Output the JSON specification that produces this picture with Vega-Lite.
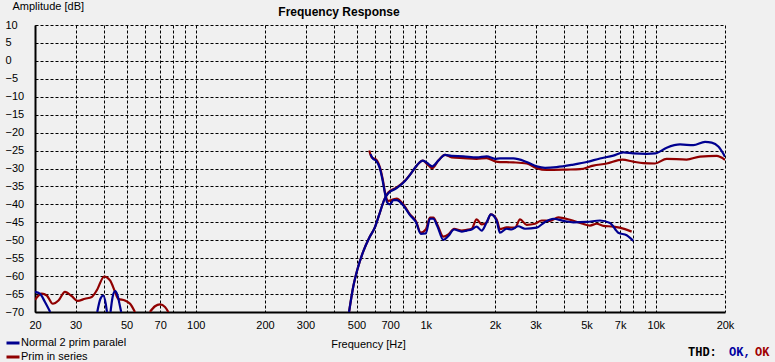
{
  "$schema": "https://vega.github.io/schema/vega-lite/v6.json",
  "width": 690,
  "height": 287,
  "autosize": {"type": "none"},
  "padding": {"left": 35, "top": 25, "right": 50, "bottom": 50},
  "background": "#f0f0f0",
  "title": {
    "text": "Frequency Response",
    "anchor": "middle",
    "frame": "group",
    "dx": -41,
    "dy": 27,
    "font": "Liberation Sans",
    "fontSize": 12,
    "fontWeight": "bold",
    "color": "#000000",
    "offset": 8
  },
  "datasets": {
    "curves": [
      {"s": "Prim in series", "g": "m", "f": 464, "db": -70},
      {"s": "Prim in series", "g": "m", "f": 484, "db": -62.9},
      {"s": "Prim in series", "g": "m", "f": 504, "db": -58.2},
      {"s": "Prim in series", "g": "m", "f": 535, "db": -53.1},
      {"s": "Prim in series", "g": "m", "f": 568, "db": -49.3},
      {"s": "Prim in series", "g": "m", "f": 600, "db": -46.5},
      {"s": "Prim in series", "g": "m", "f": 628, "db": -42.8},
      {"s": "Prim in series", "g": "m", "f": 661, "db": -38.6},
      {"s": "Prim in series", "g": "m", "f": 687, "db": -36.7},
      {"s": "Prim in series", "g": "m", "f": 747, "db": -35.3},
      {"s": "Prim in series", "g": "m", "f": 812, "db": -33.4},
      {"s": "Prim in series", "g": "m", "f": 869, "db": -31.1},
      {"s": "Prim in series", "g": "m", "f": 918, "db": -29.0},
      {"s": "Prim in series", "g": "m", "f": 970, "db": -27.8},
      {"s": "Prim in series", "g": "m", "f": 1030, "db": -29.2},
      {"s": "Prim in series", "g": "m", "f": 1068, "db": -29.9},
      {"s": "Prim in series", "g": "m", "f": 1134, "db": -27.8},
      {"s": "Prim in series", "g": "m", "f": 1213, "db": -26.2},
      {"s": "Prim in series", "g": "m", "f": 1296, "db": -26.9},
      {"s": "Prim in series", "g": "m", "f": 1456, "db": -27.1},
      {"s": "Prim in series", "g": "m", "f": 1664, "db": -27.3},
      {"s": "Prim in series", "g": "m", "f": 1840, "db": -27.1},
      {"s": "Prim in series", "g": "m", "f": 2000, "db": -28.0},
      {"s": "Prim in series", "g": "m", "f": 2101, "db": -28.2},
      {"s": "Prim in series", "g": "m", "f": 2403, "db": -28.3},
      {"s": "Prim in series", "g": "m", "f": 2747, "db": -28.6},
      {"s": "Prim in series", "g": "m", "f": 3036, "db": -29.9},
      {"s": "Prim in series", "g": "m", "f": 3355, "db": -30.4},
      {"s": "Prim in series", "g": "m", "f": 4098, "db": -30.3},
      {"s": "Prim in series", "g": "m", "f": 4684, "db": -30.2},
      {"s": "Prim in series", "g": "m", "f": 5353, "db": -29.2},
      {"s": "Prim in series", "g": "m", "f": 6118, "db": -28.6},
      {"s": "Prim in series", "g": "m", "f": 7156, "db": -27.5},
      {"s": "Prim in series", "g": "m", "f": 7987, "db": -28.1},
      {"s": "Prim in series", "g": "m", "f": 8828, "db": -28.5},
      {"s": "Prim in series", "g": "m", "f": 9925, "db": -28.6},
      {"s": "Prim in series", "g": "m", "f": 11153, "db": -27.3},
      {"s": "Prim in series", "g": "m", "f": 13615, "db": -27.5},
      {"s": "Prim in series", "g": "m", "f": 15563, "db": -26.7},
      {"s": "Prim in series", "g": "m", "f": 18403, "db": -26.5},
      {"s": "Prim in series", "g": "m", "f": 20000, "db": -27.6},
      {"s": "Prim in series", "g": "h", "f": 568, "db": -25.0},
      {"s": "Prim in series", "g": "h", "f": 582, "db": -26.9},
      {"s": "Prim in series", "g": "h", "f": 608, "db": -27.5},
      {"s": "Prim in series", "g": "h", "f": 632, "db": -29.7},
      {"s": "Prim in series", "g": "h", "f": 650, "db": -33.0},
      {"s": "Prim in series", "g": "h", "f": 665, "db": -36.7},
      {"s": "Prim in series", "g": "h", "f": 687, "db": -39.0},
      {"s": "Prim in series", "g": "h", "f": 723, "db": -38.6},
      {"s": "Prim in series", "g": "h", "f": 747, "db": -38.4},
      {"s": "Prim in series", "g": "h", "f": 799, "db": -40.0},
      {"s": "Prim in series", "g": "h", "f": 854, "db": -42.8},
      {"s": "Prim in series", "g": "h", "f": 907, "db": -44.7},
      {"s": "Prim in series", "g": "h", "f": 951, "db": -47.9},
      {"s": "Prim in series", "g": "h", "f": 1000, "db": -47.0},
      {"s": "Prim in series", "g": "h", "f": 1043, "db": -43.7},
      {"s": "Prim in series", "g": "h", "f": 1079, "db": -43.7},
      {"s": "Prim in series", "g": "h", "f": 1122, "db": -45.6},
      {"s": "Prim in series", "g": "h", "f": 1192, "db": -49.0},
      {"s": "Prim in series", "g": "h", "f": 1254, "db": -48.4},
      {"s": "Prim in series", "g": "h", "f": 1327, "db": -46.8},
      {"s": "Prim in series", "g": "h", "f": 1433, "db": -47.3},
      {"s": "Prim in series", "g": "h", "f": 1506, "db": -47.1},
      {"s": "Prim in series", "g": "h", "f": 1583, "db": -46.8},
      {"s": "Prim in series", "g": "h", "f": 1664, "db": -44.2},
      {"s": "Prim in series", "g": "h", "f": 1750, "db": -45.6},
      {"s": "Prim in series", "g": "h", "f": 1840, "db": -45.0},
      {"s": "Prim in series", "g": "h", "f": 1919, "db": -42.8},
      {"s": "Prim in series", "g": "h", "f": 2034, "db": -44.2},
      {"s": "Prim in series", "g": "h", "f": 2101, "db": -46.9},
      {"s": "Prim in series", "g": "h", "f": 2247, "db": -46.4},
      {"s": "Prim in series", "g": "h", "f": 2443, "db": -46.5},
      {"s": "Prim in series", "g": "h", "f": 2569, "db": -44.2},
      {"s": "Prim in series", "g": "h", "f": 2747, "db": -45.7},
      {"s": "Prim in series", "g": "h", "f": 2985, "db": -45.4},
      {"s": "Prim in series", "g": "h", "f": 3192, "db": -44.5},
      {"s": "Prim in series", "g": "h", "f": 3468, "db": -44.6},
      {"s": "Prim in series", "g": "h", "f": 3771, "db": -43.6},
      {"s": "Prim in series", "g": "h", "f": 4237, "db": -44.3},
      {"s": "Prim in series", "g": "h", "f": 4765, "db": -45.3},
      {"s": "Prim in series", "g": "h", "f": 5177, "db": -45.9},
      {"s": "Prim in series", "g": "h", "f": 5534, "db": -45.4},
      {"s": "Prim in series", "g": "h", "f": 5915, "db": -46.0},
      {"s": "Prim in series", "g": "h", "f": 6540, "db": -46.2},
      {"s": "Prim in series", "g": "h", "f": 7348, "db": -46.9},
      {"s": "Prim in series", "g": "h", "f": 7857, "db": -47.6},
      {"s": "Prim in series", "g": "l1", "f": 20, "db": -66.6},
      {"s": "Prim in series", "g": "l1", "f": 21.4, "db": -64.9},
      {"s": "Prim in series", "g": "l1", "f": 22.5, "db": -65.4},
      {"s": "Prim in series", "g": "l1", "f": 23.9, "db": -67.7},
      {"s": "Prim in series", "g": "l1", "f": 25.3, "db": -66.8},
      {"s": "Prim in series", "g": "l1", "f": 27.0, "db": -64.4},
      {"s": "Prim in series", "g": "l1", "f": 28.9, "db": -65.6},
      {"s": "Prim in series", "g": "l1", "f": 30.6, "db": -66.9},
      {"s": "Prim in series", "g": "l1", "f": 33.0, "db": -66.3},
      {"s": "Prim in series", "g": "l1", "f": 35.3, "db": -65.8},
      {"s": "Prim in series", "g": "l1", "f": 37.1, "db": -64.0},
      {"s": "Prim in series", "g": "l1", "f": 40.0, "db": -60.1},
      {"s": "Prim in series", "g": "l1", "f": 42.4, "db": -61.2},
      {"s": "Prim in series", "g": "l1", "f": 44.6, "db": -64.4},
      {"s": "Prim in series", "g": "l1", "f": 46.0, "db": -66.3},
      {"s": "Prim in series", "g": "l1", "f": 49.2, "db": -66.8},
      {"s": "Prim in series", "g": "l1", "f": 51.8, "db": -67.7},
      {"s": "Prim in series", "g": "l1", "f": 54.4, "db": -70},
      {"s": "Prim in series", "g": "l2", "f": 63.2, "db": -70},
      {"s": "Prim in series", "g": "l2", "f": 66.5, "db": -68.4},
      {"s": "Prim in series", "g": "l2", "f": 69.9, "db": -67.9},
      {"s": "Prim in series", "g": "l2", "f": 73.5, "db": -68.6},
      {"s": "Prim in series", "g": "l2", "f": 76.0, "db": -70},
      {"s": "Normal 2 prim paralel", "g": "m", "f": 464, "db": -70},
      {"s": "Normal 2 prim paralel", "g": "m", "f": 484, "db": -62.9},
      {"s": "Normal 2 prim paralel", "g": "m", "f": 504, "db": -58.2},
      {"s": "Normal 2 prim paralel", "g": "m", "f": 535, "db": -53.1},
      {"s": "Normal 2 prim paralel", "g": "m", "f": 568, "db": -49.3},
      {"s": "Normal 2 prim paralel", "g": "m", "f": 600, "db": -46.5},
      {"s": "Normal 2 prim paralel", "g": "m", "f": 628, "db": -42.8},
      {"s": "Normal 2 prim paralel", "g": "m", "f": 661, "db": -38.6},
      {"s": "Normal 2 prim paralel", "g": "m", "f": 687, "db": -36.9},
      {"s": "Normal 2 prim paralel", "g": "m", "f": 747, "db": -35.5},
      {"s": "Normal 2 prim paralel", "g": "m", "f": 812, "db": -33.5},
      {"s": "Normal 2 prim paralel", "g": "m", "f": 869, "db": -31.1},
      {"s": "Normal 2 prim paralel", "g": "m", "f": 918, "db": -29.0},
      {"s": "Normal 2 prim paralel", "g": "m", "f": 970, "db": -27.8},
      {"s": "Normal 2 prim paralel", "g": "m", "f": 1030, "db": -28.8},
      {"s": "Normal 2 prim paralel", "g": "m", "f": 1068, "db": -29.4},
      {"s": "Normal 2 prim paralel", "g": "m", "f": 1134, "db": -27.8},
      {"s": "Normal 2 prim paralel", "g": "m", "f": 1213, "db": -26.2},
      {"s": "Normal 2 prim paralel", "g": "m", "f": 1296, "db": -26.5},
      {"s": "Normal 2 prim paralel", "g": "m", "f": 1456, "db": -26.6},
      {"s": "Normal 2 prim paralel", "g": "m", "f": 1664, "db": -26.9},
      {"s": "Normal 2 prim paralel", "g": "m", "f": 1840, "db": -26.6},
      {"s": "Normal 2 prim paralel", "g": "m", "f": 2000, "db": -27.3},
      {"s": "Normal 2 prim paralel", "g": "m", "f": 2101, "db": -27.2},
      {"s": "Normal 2 prim paralel", "g": "m", "f": 2403, "db": -27.2},
      {"s": "Normal 2 prim paralel", "g": "m", "f": 2747, "db": -28.2},
      {"s": "Normal 2 prim paralel", "g": "m", "f": 3036, "db": -29.4},
      {"s": "Normal 2 prim paralel", "g": "m", "f": 3300, "db": -29.8},
      {"s": "Normal 2 prim paralel", "g": "m", "f": 3709, "db": -29.6},
      {"s": "Normal 2 prim paralel", "g": "m", "f": 4382, "db": -28.9},
      {"s": "Normal 2 prim paralel", "g": "m", "f": 5008, "db": -28.2},
      {"s": "Normal 2 prim paralel", "g": "m", "f": 5722, "db": -27.2},
      {"s": "Normal 2 prim paralel", "g": "m", "f": 6540, "db": -26.4},
      {"s": "Normal 2 prim paralel", "g": "m", "f": 7228, "db": -25.5},
      {"s": "Normal 2 prim paralel", "g": "m", "f": 7987, "db": -25.8},
      {"s": "Normal 2 prim paralel", "g": "m", "f": 9128, "db": -25.9},
      {"s": "Normal 2 prim paralel", "g": "m", "f": 9925, "db": -25.8},
      {"s": "Normal 2 prim paralel", "g": "m", "f": 11153, "db": -24.2},
      {"s": "Normal 2 prim paralel", "g": "m", "f": 12747, "db": -23.3},
      {"s": "Normal 2 prim paralel", "g": "m", "f": 14565, "db": -23.5},
      {"s": "Normal 2 prim paralel", "g": "m", "f": 16374, "db": -22.6},
      {"s": "Normal 2 prim paralel", "g": "m", "f": 17503, "db": -22.8},
      {"s": "Normal 2 prim paralel", "g": "m", "f": 18713, "db": -23.9},
      {"s": "Normal 2 prim paralel", "g": "m", "f": 20000, "db": -26.7},
      {"s": "Normal 2 prim paralel", "g": "h", "f": 575, "db": -26.0},
      {"s": "Normal 2 prim paralel", "g": "h", "f": 590, "db": -27.3},
      {"s": "Normal 2 prim paralel", "g": "h", "f": 608, "db": -27.8},
      {"s": "Normal 2 prim paralel", "g": "h", "f": 632, "db": -30.0},
      {"s": "Normal 2 prim paralel", "g": "h", "f": 650, "db": -33.5},
      {"s": "Normal 2 prim paralel", "g": "h", "f": 665, "db": -37.0},
      {"s": "Normal 2 prim paralel", "g": "h", "f": 680, "db": -39.5},
      {"s": "Normal 2 prim paralel", "g": "h", "f": 700, "db": -40.0},
      {"s": "Normal 2 prim paralel", "g": "h", "f": 723, "db": -38.8},
      {"s": "Normal 2 prim paralel", "g": "h", "f": 747, "db": -38.8},
      {"s": "Normal 2 prim paralel", "g": "h", "f": 799, "db": -40.3},
      {"s": "Normal 2 prim paralel", "g": "h", "f": 854, "db": -43.0},
      {"s": "Normal 2 prim paralel", "g": "h", "f": 907, "db": -45.0},
      {"s": "Normal 2 prim paralel", "g": "h", "f": 951, "db": -48.2},
      {"s": "Normal 2 prim paralel", "g": "h", "f": 1000, "db": -48.1},
      {"s": "Normal 2 prim paralel", "g": "h", "f": 1043, "db": -44.0},
      {"s": "Normal 2 prim paralel", "g": "h", "f": 1079, "db": -44.0},
      {"s": "Normal 2 prim paralel", "g": "h", "f": 1122, "db": -46.0},
      {"s": "Normal 2 prim paralel", "g": "h", "f": 1192, "db": -49.9},
      {"s": "Normal 2 prim paralel", "g": "h", "f": 1254, "db": -48.8},
      {"s": "Normal 2 prim paralel", "g": "h", "f": 1327, "db": -47.0},
      {"s": "Normal 2 prim paralel", "g": "h", "f": 1433, "db": -47.6},
      {"s": "Normal 2 prim paralel", "g": "h", "f": 1506, "db": -47.3},
      {"s": "Normal 2 prim paralel", "g": "h", "f": 1583, "db": -47.0},
      {"s": "Normal 2 prim paralel", "g": "h", "f": 1664, "db": -46.2},
      {"s": "Normal 2 prim paralel", "g": "h", "f": 1750, "db": -47.3},
      {"s": "Normal 2 prim paralel", "g": "h", "f": 1840, "db": -45.0},
      {"s": "Normal 2 prim paralel", "g": "h", "f": 1919, "db": -42.8},
      {"s": "Normal 2 prim paralel", "g": "h", "f": 2034, "db": -44.6},
      {"s": "Normal 2 prim paralel", "g": "h", "f": 2101, "db": -47.9},
      {"s": "Normal 2 prim paralel", "g": "h", "f": 2247, "db": -46.8},
      {"s": "Normal 2 prim paralel", "g": "h", "f": 2363, "db": -47.0},
      {"s": "Normal 2 prim paralel", "g": "h", "f": 2524, "db": -46.1},
      {"s": "Normal 2 prim paralel", "g": "h", "f": 2700, "db": -46.8},
      {"s": "Normal 2 prim paralel", "g": "h", "f": 3036, "db": -46.5},
      {"s": "Normal 2 prim paralel", "g": "h", "f": 3300, "db": -44.9},
      {"s": "Normal 2 prim paralel", "g": "h", "f": 3585, "db": -44.0},
      {"s": "Normal 2 prim paralel", "g": "h", "f": 3962, "db": -44.6},
      {"s": "Normal 2 prim paralel", "g": "h", "f": 4382, "db": -45.0},
      {"s": "Normal 2 prim paralel", "g": "h", "f": 5008, "db": -44.9},
      {"s": "Normal 2 prim paralel", "g": "h", "f": 5722, "db": -44.5},
      {"s": "Normal 2 prim paralel", "g": "h", "f": 6325, "db": -45.2},
      {"s": "Normal 2 prim paralel", "g": "h", "f": 6873, "db": -47.9},
      {"s": "Normal 2 prim paralel", "g": "h", "f": 7474, "db": -48.6},
      {"s": "Normal 2 prim paralel", "g": "h", "f": 7987, "db": -50.2},
      {"s": "Normal 2 prim paralel", "g": "l1", "f": 20, "db": -64.4},
      {"s": "Normal 2 prim paralel", "g": "l1", "f": 21, "db": -64.9},
      {"s": "Normal 2 prim paralel", "g": "l1", "f": 22.1, "db": -67.2},
      {"s": "Normal 2 prim paralel", "g": "l1", "f": 23.3, "db": -70},
      {"s": "Normal 2 prim paralel", "g": "l2", "f": 37.3, "db": -70},
      {"s": "Normal 2 prim paralel", "g": "l2", "f": 38.5, "db": -66.3},
      {"s": "Normal 2 prim paralel", "g": "l2", "f": 39.6, "db": -65.4},
      {"s": "Normal 2 prim paralel", "g": "l2", "f": 40.6, "db": -67.7},
      {"s": "Normal 2 prim paralel", "g": "l2", "f": 41.1, "db": -70},
      {"s": "Normal 2 prim paralel", "g": "l3", "f": 42.6, "db": -70},
      {"s": "Normal 2 prim paralel", "g": "l3", "f": 43.5, "db": -65.8},
      {"s": "Normal 2 prim paralel", "g": "l3", "f": 44.6, "db": -64.2},
      {"s": "Normal 2 prim paralel", "g": "l3", "f": 45.7, "db": -65.4},
      {"s": "Normal 2 prim paralel", "g": "l3", "f": 46.9, "db": -68.6},
      {"s": "Normal 2 prim paralel", "g": "l3", "f": 47.4, "db": -70}
    ],
    "thd": [
      {"who": "Normal 2 prim paralel"},
      {"who": "Prim in series"}
    ]
  },
  "layer": [
    {
      "data": {"name": "curves"},
      "mark": {"type": "line", "interpolate": "monotone", "strokeWidth": 2.2, "clip": true},
      "encoding": {
        "x": {
          "field": "f",
          "type": "quantitative",
          "scale": {"type": "log", "domain": [20, 20000], "nice": false},
          "axis": {
            "title": "Frequency [Hz]",
            "titleX": 333,
            "titleY": 32,
            "titleAlign": "center",
            "titleBaseline": "middle",
            "values": [20, 30, 40, 50, 60, 70, 80, 90, 100, 200, 300, 400, 500, 600, 700, 800, 900, 1000, 2000, 3000, 4000, 5000, 6000, 7000, 8000, 9000, 10000, 20000],
            "labelExpr": "indexof([20,30,50,70,100,200,300,500,700,1000,2000,3000,5000,7000,10000,20000], datum.value) >= 0 ? (datum.value >= 1000 ? (datum.value/1000) + 'k' : datum.value + '') : ''",
            "labelPadding": 7,
            "labelBaseline": "top"
          }
        },
        "y": {
          "field": "db",
          "type": "quantitative",
          "scale": {"domain": [-70, 10], "nice": false, "zero": false},
          "axis": {
            "title": "Amplitude [dB]",
            "titleAngle": 0,
            "titleX": -23,
            "titleY": -19,
            "titleAlign": "left",
            "titleBaseline": "middle",
            "values": [10, 5, 0, -5, -10, -15, -20, -25, -30, -35, -40, -45, -50, -55, -60, -65, -70],
            "labelAlign": "left",
            "labelPadding": 30,
            "labelBaseline": "middle"
          }
        },
        "color": {
          "field": "s",
          "type": "nominal",
          "scale": {"domain": ["Normal 2 prim paralel", "Prim in series"], "range": ["#000090", "#900000"]},
          "legend": {
            "title": null,
            "orient": "none",
            "legendX": -30,
            "legendY": 310,
            "symbolType": "stroke",
            "symbolStrokeWidth": 3,
            "symbolSize": 169,
            "labelOffset": 0,
            "padding": 0,
            "rowPadding": 0,
            "labelFont": "Liberation Sans",
            "labelFontSize": 11,
            "labelColor": "#000000"
          }
        },
        "detail": {"field": "g"}
      }
    },
    {
      "data": {"name": "thd"},
      "mark": {"type": "point", "opacity": 0, "size": 0},
      "encoding": {
        "shape": {
          "field": "who",
          "type": "nominal",
          "legend": {
            "title": "THD:",
            "titleOrient": "left",
            "titleFont": "Liberation Mono",
            "titleFontSize": 12,
            "titleFontWeight": "bold",
            "titleColor": "#000000",
            "titlePadding": 8,
            "orient": "none",
            "direction": "horizontal",
            "legendX": 653,
            "legendY": 321,
            "padding": 0,
            "symbolSize": 0,
            "symbolOpacity": 0,
            "symbolStrokeWidth": 0,
            "labelOffset": -8,
            "columnPadding": 0,
            "labelFont": "Liberation Mono",
            "labelFontSize": 12,
            "labelFontWeight": "bold",
            "labelColor": {"expr": "datum.value === 'Prim in series' ? '#a00000' : '#0000a0'"},
            "labelExpr": "datum.value === 'Prim in series' ? 'OK' : 'OK,'",
            "encode": {
              "symbols": {"update": {"size": {"value": 0}}},
              "labels": {"update": {"fill": {"signal": "datum.value === 'Prim in series' ? '#a00000' : '#0000a0'"}}}
            }
          }
        }
      }
    }
  ],
  "config": {
    "view": {"stroke": null},
    "axis": {
      "domainColor": "#000000",
      "domainWidth": 2,
      "ticks": false,
      "tickSize": 0,
      "grid": true,
      "gridColor": "#000000",
      "gridDash": [3, 2],
      "gridWidth": 1,
      "gridOpacity": 1,
      "labelFont": "Liberation Sans",
      "labelFontSize": 11,
      "labelColor": "#000000",
      "labelOverlap": false,
      "labelFlush": false,
      "titleFont": "Liberation Sans",
      "titleFontSize": 11,
      "titleFontWeight": "normal",
      "titleColor": "#000000"
    }
  }
}
